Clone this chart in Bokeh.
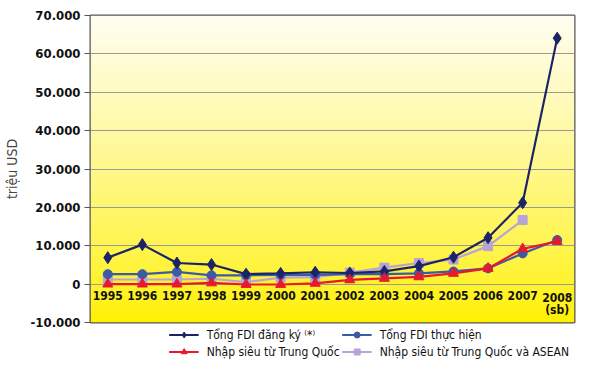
import numpy as np
from bokeh.plotting import figure
from bokeh.models import FactorRange, Range1d, Legend, LegendItem, FixedTicker
from bokeh.core.properties import value
from bokeh.embed import file_html
from bokeh.resources import INLINE

years = ["1995", "1996", "1997", "1998", "1999", "2000", "2001", "2002",
         "2003", "2004", "2005", "2006", "2007", "2008"]
year_labels = ["1995", "1996", "1997", "1998", "1999", "2000", "2001", "2002",
               "2003", "2004", "2005", "2006", "2007", "2008\n(sb)"]
fdi_dang_ky = [6900, 10300, 5500, 5100, 2600, 2800, 3100, 2900, 3300, 4700, 7000, 12100, 21200, 64100]
fdi_thuc_hien = [2600, 2600, 3200, 2300, 2300, 2400, 2400, 2600, 2600, 2800, 3300, 4100, 8000, 11500]
nhap_sieu_tq = [0, 0, 0, 300, -100, -100, 200, 1100, 1500, 1900, 2800, 4100, 9200, 11100]
nhap_sieu_tq_asean = [1200, 1200, 1200, 1400, 500, 1700, 1800, 3000, 4300, 5500, 6400, 9900, 16700]
y_ticks = [-10000, 0, 10000, 20000, 30000, 40000, 50000, 60000, 70000]
y_tick_labels = ["-10.000", "0", "10.000", "20.000", "30.000", "40.000", "50.000", "60.000", "70.000"]

FONT = "DejaVu Sans Condensed"

p = figure(frame_width=484, frame_height=307, output_backend="svg", toolbar_location=None,
           x_range=FactorRange(*years, range_padding=0),
           y_range=Range1d(-10000, 70000), x_axis_location=None,
           min_border_left=83, min_border_right=22, min_border_top=15, min_border_bottom=0)
p.background_fill_color = "white"
p.border_fill_color = "white"

# gradient background (cream at top -> yellow at bottom)
n = 200
t = np.linspace(0, 1, n)  # 0 bottom, 1 top
top = np.array([255, 254, 242])
bot = np.array([255, 240, 0])
img = np.zeros((n, 1), dtype=np.uint32)
view = img.view(dtype=np.uint8).reshape((n, 1, 4))
for i in range(n):
    c = bot + (top - bot) * (t[i] ** 0.8)
    view[i, 0, 0] = int(c[0]); view[i, 0, 1] = int(c[1]); view[i, 0, 2] = int(c[2]); view[i, 0, 3] = 255
p.image_rgba(image=[img], x=0, y=-10000, dw=14, dh=80000, level="image")

p.ygrid.grid_line_color = "#9a9a9a"
p.ygrid.grid_line_width = 1
p.ygrid.level = "underlay"
p.xgrid.visible = False
p.ygrid.ticker = FixedTicker(ticks=y_ticks)

p.yaxis.ticker = FixedTicker(ticks=y_ticks)
p.yaxis.major_label_overrides = {v: l for v, l in zip(y_ticks, y_tick_labels)}
p.yaxis.major_label_text_font = FONT
p.yaxis.major_label_text_font_size = "13px"
p.yaxis.major_label_text_font_style = "bold"
p.yaxis.major_label_text_color = "#111"
p.yaxis.major_label_standoff = 4
p.yaxis.axis_line_color = None
p.yaxis.major_tick_line_color = "#555"
p.yaxis.major_tick_in = 0
p.yaxis.major_tick_out = 6
p.yaxis.minor_tick_line_color = None
p.yaxis.axis_label = "triệu USD"
p.yaxis.axis_label_text_font = FONT
p.yaxis.axis_label_text_font_style = "normal"
p.yaxis.axis_label_text_font_size = "14px"
p.yaxis.axis_label_standoff = 8

p.outline_line_color = "#555555"
p.outline_line_width = 2

# year labels inside the plot
p.text(x=years, y=value(-1700), text=year_labels, text_font=value(FONT),
       text_font_style="bold", text_font_size="12px", text_align="center",
       text_baseline="top", text_color="#111", text_line_height=0.85)

c1, c2, c3, c4 = "#1c2468", "#3d5aa6", "#e8192c", "#b7a4d6"
r4l = p.line(years[:len(nhap_sieu_tq_asean)], nhap_sieu_tq_asean, color=c4, line_width=2.2)
r4m = p.scatter(years[:len(nhap_sieu_tq_asean)], nhap_sieu_tq_asean, marker="square", size=9, color=c4)
r2l = p.line(years, fdi_thuc_hien, color=c2, line_width=2.2)
r2m = p.scatter(years, fdi_thuc_hien, marker="circle", size=9, color=c2)
r1l = p.line(years, fdi_dang_ky, color=c1, line_width=2.2)
r1m = p.scatter(years, fdi_dang_ky, marker="diamond", size=12, color=c1)
r3l = p.line(years, nhap_sieu_tq, color=c3, line_width=2.2)
r3m = p.scatter(years, nhap_sieu_tq, marker="triangle", size=10, color=c3)

legend = Legend(items=[
    LegendItem(label="Tổng FDI đăng ký ⁽*⁾", renderers=[r1l, r1m]),
    LegendItem(label="Nhập siêu từ Trung Quốc", renderers=[r3l, r3m]),
    LegendItem(label="Tổng FDI thực hiện", renderers=[r2l, r2m]),
    LegendItem(label="Nhập siêu từ Trung Quốc và ASEAN", renderers=[r4l, r4m]),
], ncols=2, location="top_right")
legend.label_text_font = FONT
legend.label_text_font_size = "12px"
legend.label_text_color = "#111"
legend.border_line_color = None
legend.background_fill_alpha = 0
legend.glyph_width = 30
legend.label_height = 15
legend.glyph_height = 15
legend.spacing = 2
legend.padding = 3
legend.margin = 5
legend.label_standoff = 8
p.add_layout(legend, "below")

open("out.html", "w").write(file_html(p, INLINE))
